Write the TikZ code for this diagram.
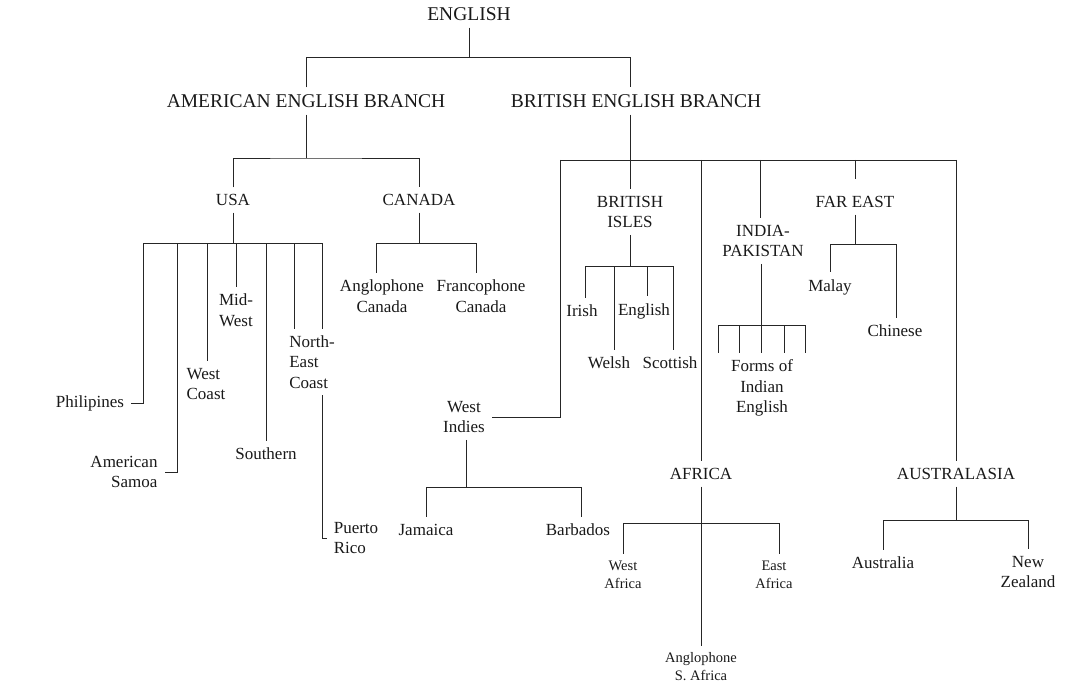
\documentclass[tikz,border=0pt]{standalone}
\usepackage{fontspec}
\setmainfont{Liberation Serif}
\begin{document}
\begin{tikzpicture}[x=1pt,y=-1pt,
  base/.style={inner sep=0pt, outer xsep=7pt, outer ysep=7pt, align=center, text=black!90},
  hd/.style={base, font=\fontsize{19.5}{23}\selectfont},
  lb/.style={base, font=\fontsize{17}{20.5}\selectfont},
  sm/.style={base, font=\fontsize{14.5}{18}\selectfont},
  ln/.style={line width=0.8pt, draw=black!85}]
\useasboundingbox (0,0) rectangle (1074,698);
% ---------- nodes ----------
\node[hd] (english) at (469,14) {ENGLISH};
\node[hd] (amer) at (306,101) {AMERICAN ENGLISH BRANCH};
\node[hd] (brit) at (636,101) {BRITISH ENGLISH BRANCH};
\node[lb] (usa) at (233,200) {USA};
\node[lb] (canada) at (419,200) {CANADA};
\node[lb] (ph) at (90,403) {Philipines};
\node[lb, align=right] (sam) at (124,472) {American\\Samoa};
\node[lb, align=left] (wc) at (206,384) {West\\Coast};
\node[lb] (mw) at (236,310) {Mid-\\West};
\node[lb] (south) at (266,454) {Southern};
\node[lb, align=left] (ne) at (312,362) {North-\\East\\Coast};
\node[lb, align=left] (pr) at (356,538) {Puerto\\Rico};
\node[lb] (ac) at (382,296) {Anglophone\\Canada};
\node[lb] (fc) at (481,296) {Francophone\\Canada};
\node[lb] (bi) at (630,212) {BRITISH\\ISLES};
\node[lb] (ip) at (763,241) {INDIA-\\PAKISTAN};
\node[lb] (fe) at (855,202) {FAR EAST};
\node[lb] (irish) at (582,311) {Irish};
\node[lb] (eng2) at (644,311) {English};
\node[lb] (welsh) at (609,363) {Welsh};
\node[lb] (scot) at (670,363) {Scottish};
\node[lb] (forms) at (762,388) {Forms of\\Indian\\English};
\node[lb] (malay) at (830,287) {Malay};
\node[lb] (chinese) at (895,331) {Chinese};
\node[lb] (wi) at (464,417) {West\\Indies};
\node[lb] (jam) at (426,530) {Jamaica};
\node[lb] (barb) at (578,530) {Barbados};
\node[lb] (africa) at (701,474) {AFRICA};
\node[sm] (wa) at (623,575) {West\\Africa};
\node[sm] (ea) at (774,575) {East\\Africa};
\node[sm] (asa) at (701,667) {Anglophone\\S. Africa};
\node[lb] (aus) at (956,474) {AUSTRALASIA};
\node[lb] (austr) at (883,563) {Australia};
\node[lb] (nz) at (1028,572) {New\\Zealand};
% ---------- junction coordinates ----------
\coordinate (t0) at (469,57);
\coordinate (tB) at (630,57);
\coordinate (aJ) at (306,158);
\coordinate (uJ) at (233,243);
\coordinate (u1) at (143,243);
\coordinate (u2) at (177,243);
\coordinate (u3) at (207,243);
\coordinate (u4) at (236,243);
\coordinate (u5) at (266,243);
\coordinate (u6) at (294,243);
\coordinate (u7) at (322,243);
\coordinate (cJ) at (419,243);
\coordinate (c1) at (376,243);
\coordinate (c2) at (476,243);
\coordinate (bJ) at (630,160);
\coordinate (b1) at (560,160);
\coordinate (b3) at (701,160);
\coordinate (b4) at (760,160);
\coordinate (b5) at (855,160);
\coordinate (b6) at (956,160);
\coordinate (i1) at (585,266);
\coordinate (i2) at (614,266);
\coordinate (i3) at (647,266);
\coordinate (i4) at (673,266);
\coordinate (p1) at (718,325);
\coordinate (p2) at (739,325);
\coordinate (p3) at (761,325);
\coordinate (p4) at (784,325);
\coordinate (p5) at (805,325);
\coordinate (fJ) at (855,244);
\coordinate (f1) at (830,244);
\coordinate (f2) at (896,244);
\coordinate (wJ) at (466,487);
\coordinate (w1) at (426,487);
\coordinate (w2) at (581,487);
\coordinate (a1) at (623,523);
\coordinate (a2) at (779,523);
\coordinate (sJ) at (956,520);
\coordinate (s1) at (883,520);
\coordinate (s2) at (1028,520);
% ---------- connectors ----------
\draw[ln] (english.south) -- (t0);
\draw[ln] (amer.north) |- (tB) -- (brit.north -| tB);
\draw[ln] (amer.south) -- (aJ);
\draw[ln] (usa.north) |- (aJ) -| (canada.north);
% USA
\draw[ln] (usa.south) -- (uJ);
\draw[ln] (u1) -- (u7);
\draw[ln] (u1) |- (ph.east);
\draw[ln] (u2) |- (sam.east);
\draw[ln] (u3) -- (wc.north -| u3);
\draw[ln] (u4) -- (mw.north);
\draw[ln] (u5) -- (south.north);
\draw[ln] (u6) -- (ne.north -| u6);
\draw[ln] (u7) -- (ne.north -| u7);
\draw[ln] (ne.south -| u7) |- (pr.west);
% Canada
\draw[ln] (canada.south) -- (cJ);
\draw[ln] (c1) -- (c2);
\draw[ln] (c1) -- (ac.north -| c1);
\draw[ln] (c2) -- (fc.north -| c2);
% British
\draw[ln] (brit.south -| bJ) -- (bJ);
\draw[ln] (b1) -- (b6);
\draw[ln] (b1) |- (wi.east);
\draw[ln] (bJ) -- (bi.north);
\draw[ln] (b3) -- (africa.north);
\draw[ln] (b4) -- (ip.north -| b4);
\draw[ln] (b5) -- ([yshift=10pt]fe.north);
\draw[ln] (b6) -- (aus.north -| b6);
% British Isles
\draw[ln] (bi.south) -- (i1 -| bi.south) ;
\draw[ln] (i1) -- (i4);
\draw[ln] (i1) -- (irish.north -| i1);
\draw[ln] (i2) -- (welsh.north -| i2);
\draw[ln] (i3) -- (eng2.north -| i3);
\draw[ln] (i4) -- (scot.north -| i4);
% India-Pakistan
\draw[ln] (ip.south -| p3) -- (p3);
\draw[ln] (p1) -- (p5);
\foreach \p in {p1,p2,p3,p4,p5} \draw[ln] (\p) -- (forms.north -| \p);
% Far East
\draw[ln] (fe.south) -- (fJ);
\draw[ln] (f1) -- (f2);
\draw[ln] (f1) -- (malay.north);
\draw[ln] (f2) -- (chinese.north -| f2);
% West Indies
\draw[ln] (wi.south -| wJ) -- (wJ);
\draw[ln] (w1) -- (w2);
\draw[ln] (w1) -- (jam.north);
\draw[ln] (w2) -- (barb.north -| w2);
% Africa
\draw[ln] (africa.south) -- (asa.north);
\draw[ln] (a1) -- (a2);
\draw[ln] (a1) -- (wa.north);
\draw[ln] (a2) -- (ea.north -| a2);
% Australasia
\draw[ln] (aus.south) -- (sJ);
\draw[ln] (s1) -- (s2);
\draw[ln] (s1) -- (austr.north);
\draw[ln] (s2) -- (nz.north);
\end{tikzpicture}
\end{document}
